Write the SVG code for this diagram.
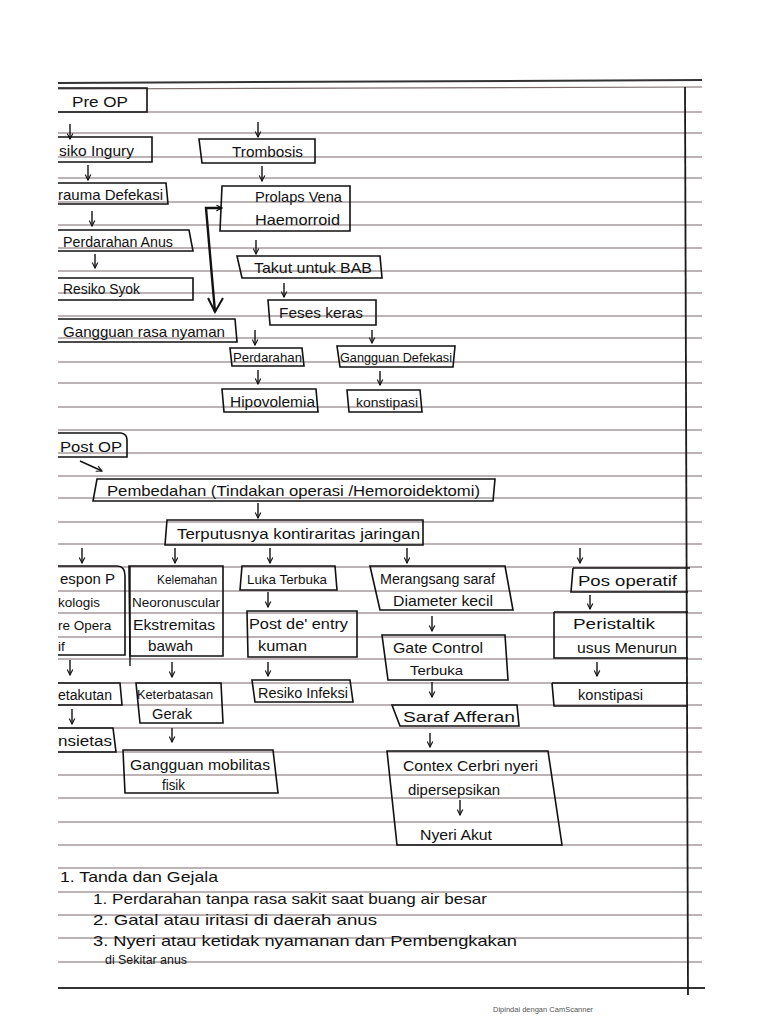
<svg xmlns="http://www.w3.org/2000/svg" width="768" height="1024" viewBox="0 0 768 1024">
<defs>
<style>
.rule{stroke:#7a6a6a;stroke-width:1.1;fill:none}
.box{fill:none;stroke:#111;stroke-width:1.6}
.t{font-family:"Liberation Sans","DejaVu Sans",sans-serif;font-size:15px;fill:#111}
.s{font-size:13.5px}
.xs{font-size:12.5px}
.c{stroke:#111;stroke-width:1.4;fill:none}
</style>
<marker id="ah" viewBox="0 0 10 10" refX="9" refY="5" markerWidth="7" markerHeight="7" orient="auto-start-reverse" markerUnits="userSpaceOnUse">
<path d="M1,1 L9,5 L1,9" fill="none" stroke="#111" stroke-width="1.6"/>
</marker>
</defs>
<rect width="768" height="1024" fill="#fff"/>
<g id="paper">
<path class="rule" style="stroke-width:2;stroke:#333" d="M58 83 L702 80"/>
<path class="rule" d="M58 89 L702 87"/>
<path class="rule" d="M58 112 H702 M58 133 H702 M58 157 H702 M58 178 H702 M58 202 H702 M58 225 H702 M58 248 H702 M58 271 H702 M58 293 H702 M58 316 H702 M58 338 H702 M58 362 H702 M58 383 H702 M58 407 H702 M58 430 H702 M58 453 H702 M58 476 H702 M58 498 H702 M58 522 H702 M58 544 H702 M58 567 H702 M58 591 H702 M58 613 H702 M58 637 H702 M58 659 H702 M58 683 H702 M58 705 H702 M58 728 H702 M58 752 H702 M58 775 H702 M58 798 H702 M58 822 H702 M58 845 H702 M58 868 H702 M58 892 H702 M58 915 H702 M58 938 H702 M58 962 H702"/>
<path class="rule" style="stroke-width:2;stroke:#333" d="M58 988 H705"/>
<path d="M685 87 L688 995" stroke="#1a1a1a" stroke-width="1.8" fill="none"/>
</g>

<g id="connectors">
<path class="c" d="M70 124 V139" marker-end="url(#ah)"/>
<path class="c" d="M258 122 V137" marker-end="url(#ah)"/>
<path class="c" d="M88 165 V180" marker-end="url(#ah)"/>
<path class="c" d="M262 166 V181" marker-end="url(#ah)"/>
<path class="c" d="M92 211 V226" marker-end="url(#ah)"/>
<path class="c" d="M256 240 V254" marker-end="url(#ah)"/>
<path class="c" d="M95 254 V268" marker-end="url(#ah)"/>
<path class="c" d="M284 283 V297" marker-end="url(#ah)"/>
<path d="M215 312 L206 208 H222" stroke="#111" stroke-width="2.4" fill="none" marker-end="url(#ah)"/>
<path d="M208 298 L215 312 L223 298" stroke="#111" stroke-width="2" fill="none"/>
<path class="c" d="M255 330 V345" marker-end="url(#ah)"/>
<path class="c" d="M372 330 V343" marker-end="url(#ah)"/>
<path class="c" d="M258 370 V384" marker-end="url(#ah)"/>
<path class="c" d="M380 371 V385" marker-end="url(#ah)"/>
<path class="c" d="M80 461 L102 471" marker-end="url(#ah)"/>
<path class="c" d="M258 503 V518" marker-end="url(#ah)"/>
<path class="c" d="M82 548 V563" marker-end="url(#ah)"/>
<path class="c" d="M175 548 V563" marker-end="url(#ah)"/>
<path class="c" d="M270 548 V563" marker-end="url(#ah)"/>
<path class="c" d="M407 548 V563" marker-end="url(#ah)"/>
<path class="c" d="M580 548 V563" marker-end="url(#ah)"/>
<path class="c" d="M268 592 V607" marker-end="url(#ah)"/>
<path class="c" d="M590 595 V609" marker-end="url(#ah)"/>
<path class="c" d="M432 616 V631" marker-end="url(#ah)"/>
<path class="c" d="M70 660 V675" marker-end="url(#ah)"/>
<path class="c" d="M172 662 V677" marker-end="url(#ah)"/>
<path class="c" d="M268 662 V676" marker-end="url(#ah)"/>
<path class="c" d="M597 662 V676" marker-end="url(#ah)"/>
<path class="c" d="M432 682 V697" marker-end="url(#ah)"/>
<path class="c" d="M72 709 V724" marker-end="url(#ah)"/>
<path class="c" d="M172 728 V742" marker-end="url(#ah)"/>
<path class="c" d="M430 733 V747" marker-end="url(#ah)"/>
<path class="c" d="M460 800 V815" marker-end="url(#ah)"/>
</g>

<g id="pre-op"><path class="box" d="M58 88 H147 V112 H58"/><text class="t" x="72" y="107" textLength="56" lengthAdjust="spacingAndGlyphs">Pre OP</text></g>
<g id="resiko-ingury"><path class="box" d="M58 137 H152 V162 H58"/><text class="t" x="59" y="156" textLength="75" lengthAdjust="spacingAndGlyphs">siko Ingury</text></g>
<g id="trombosis"><path class="box" d="M199 139 H315 V163 H202 Z"/><text class="t" x="232" y="157" textLength="71" lengthAdjust="spacingAndGlyphs">Trombosis</text></g>
<g id="trauma-defekasi"><path class="box" d="M58 183 H166 L168 204 H58"/><text class="t" x="58" y="200" textLength="105" lengthAdjust="spacingAndGlyphs">rauma Defekasi</text></g>
<g id="prolaps"><path class="box" d="M222 186 H350 V231 H220 Z"/><text class="t" x="255" y="202" textLength="87" lengthAdjust="spacingAndGlyphs">Prolaps Vena</text><text class="t" x="255" y="225" textLength="85" lengthAdjust="spacingAndGlyphs">Haemorroid</text></g>
<g id="perdarahan-anus"><path class="box" d="M58 230 H189 L193 251 H58"/><text class="t" x="63" y="247" style="font-size:14px" textLength="110" lengthAdjust="spacingAndGlyphs">Perdarahan Anus</text></g>
<g id="takut-bab"><path class="box" d="M237 256 H380 L382 278 H242 Z"/><text class="t" x="254" y="273" textLength="118" lengthAdjust="spacingAndGlyphs">Takut untuk BAB</text></g>
<g id="resiko-syok"><path class="box" d="M58 278 H193 V300 H58"/><text class="t" x="63" y="294" style="font-size:14px" textLength="77" lengthAdjust="spacingAndGlyphs">Resiko Syok</text></g>
<g id="feses-keras"><path class="box" d="M268 300 H376 V325 H270 Z"/><text class="t" x="279" y="318" textLength="84" lengthAdjust="spacingAndGlyphs">Feses keras</text></g>
<g id="gangguan-rasa-nyaman"><path class="box" d="M58 319 H235 L237 342 H58"/><text class="t" x="63" y="337" textLength="162" lengthAdjust="spacingAndGlyphs">Gangguan rasa nyaman</text></g>
<g id="perdarahan"><path class="box" d="M230 348 H302 L304 366 H232 Z"/><text class="t s" x="233" y="362" textLength="69" lengthAdjust="spacingAndGlyphs">Perdarahan</text></g>
<g id="gangguan-defekasi"><path class="box" d="M337 346 H455 L453 367 H340 Z"/><text class="t" x="340" y="362" style="font-size:13px" textLength="112" lengthAdjust="spacingAndGlyphs">Gangguan Defekasi</text></g>
<g id="hipovolemia"><path class="box" d="M222 389 H316 L318 412 H224 Z"/><text class="t" x="230" y="407" textLength="85" lengthAdjust="spacingAndGlyphs">Hipovolemia</text></g>
<g id="konstipasi-1"><path class="box" d="M347 390 H420 L422 412 H349 Z"/><text class="t s" x="356" y="407" textLength="62" lengthAdjust="spacingAndGlyphs">konstipasi</text></g>

<g id="post-op"><path class="box" d="M58 433 H121 Q127 434 127 440 V457 H58"/><text class="t" x="60" y="452" textLength="62" lengthAdjust="spacingAndGlyphs">Post OP</text></g>
<g id="pembedahan"><path class="box" d="M97 479 H495 L493 501 H93 Z"/><text class="t" x="107" y="496" textLength="373" lengthAdjust="spacingAndGlyphs">Pembedahan (Tindakan operasi /Hemoroidektomi)</text></g>
<g id="terputusnya"><path class="box" d="M167 520 H423 V545 H165 Z"/><text class="t" x="177" y="539" textLength="243" lengthAdjust="spacingAndGlyphs">Terputusnya kontiraritas jaringan</text></g>
<g id="respon"><path class="box" d="M58 566 H117 Q125 566 125 576 V655 H58"/><text class="t" x="60" y="584" textLength="55" lengthAdjust="spacingAndGlyphs">espon P</text><text class="t s" x="58" y="607">kologis</text><text class="t s" x="58" y="630">re Opera</text><text class="t s" x="58" y="651">if</text></g>
<g id="kelemahan"><path class="box" d="M129 566 H223 V656 H130 Z"/><path class="c" d="M130 566 V666"/><text class="t xs" x="157" y="584" textLength="60" lengthAdjust="spacingAndGlyphs">Kelemahan</text><text class="t s" x="132" y="607" textLength="88" lengthAdjust="spacingAndGlyphs">Neoronuscular</text><text class="t" x="133" y="630" textLength="82" lengthAdjust="spacingAndGlyphs">Ekstremitas</text><text class="t" x="148" y="651" textLength="45" lengthAdjust="spacingAndGlyphs">bawah</text></g>
<g id="luka-terbuka"><path class="box" d="M242 566 H335 L337 590 H240 Z"/><text class="t s" x="247" y="584" textLength="80" lengthAdjust="spacingAndGlyphs">Luka Terbuka</text></g>
<g id="post-de-entry"><path class="box" d="M247 611 H357 V657 H248 Z"/><text class="t" x="249" y="629" textLength="99" lengthAdjust="spacingAndGlyphs">Post de' entry</text><text class="t" x="258" y="651" textLength="49" lengthAdjust="spacingAndGlyphs">kuman</text></g>
<g id="resiko-infeksi"><path class="box" d="M252 680 H350 L353 702 H255 Z"/><text class="t" x="258" y="698" style="font-size:14px" textLength="90" lengthAdjust="spacingAndGlyphs">Resiko Infeksi</text></g>
<g id="merangsang"><path class="box" d="M370 566 H505 L513 610 H380 Z"/><text class="t" x="380" y="584" style="font-size:14px" textLength="115" lengthAdjust="spacingAndGlyphs">Merangsang saraf</text><text class="t" x="393" y="606" textLength="100" lengthAdjust="spacingAndGlyphs">Diameter kecil</text></g>
<g id="gate-control"><path class="box" d="M382 635 H505 L508 680 H388 Z"/><text class="t" x="393" y="653" textLength="90" lengthAdjust="spacingAndGlyphs">Gate Control</text><text class="t s" x="410" y="675" textLength="53" lengthAdjust="spacingAndGlyphs">Terbuka</text></g>
<g id="saraf-afferan"><path class="box" d="M392 705 H517 L519 726 H400 Z"/><text class="t" x="403" y="722" textLength="112" lengthAdjust="spacingAndGlyphs">Saraf Afferan</text></g>
<g id="contex-cerbri"><path class="box" d="M387 751 H548 L562 845 H397 Z"/><text class="t" x="403" y="771" textLength="135" lengthAdjust="spacingAndGlyphs">Contex Cerbri nyeri</text><text class="t" x="408" y="795" textLength="92" lengthAdjust="spacingAndGlyphs">dipersepsikan</text><text class="t" x="420" y="840" textLength="72" lengthAdjust="spacingAndGlyphs">Nyeri Akut</text></g>
<g id="pos-operatif"><path class="box" d="M573 568 H690 M573 568 L571 592 H688"/><text class="t" x="578" y="586" textLength="99" lengthAdjust="spacingAndGlyphs">Pos operatif</text></g>
<g id="peristaltik"><path class="box" d="M554 612 H688 M554 612 V658 H688"/><text class="t" x="573" y="629" textLength="82" lengthAdjust="spacingAndGlyphs">Peristaltik</text><text class="t" x="577" y="653" textLength="100" lengthAdjust="spacingAndGlyphs">usus Menurun</text></g>
<g id="konstipasi-2"><path class="box" d="M552 683 H688 M552 683 L554 706 H688"/><text class="t" x="578" y="700" textLength="65" lengthAdjust="spacingAndGlyphs">konstipasi</text></g>
<g id="ketakutan"><path class="box" d="M58 683 H120 L122 705 H58"/><text class="t" x="58" y="700" style="font-size:14px" textLength="54" lengthAdjust="spacingAndGlyphs">etakutan</text></g>
<g id="keterbatasan"><path class="box" d="M136 683 H221 L223 723 H140 Z"/><text class="t" x="137" y="699" style="font-size:13px" textLength="76" lengthAdjust="spacingAndGlyphs">Keterbatasan</text><text class="t" x="152" y="719" textLength="40" lengthAdjust="spacingAndGlyphs">Gerak</text></g>
<g id="ansietas"><path class="box" d="M58 728 H113 L116 752 H58"/><text class="t" x="58" y="746" textLength="54" lengthAdjust="spacingAndGlyphs">nsietas</text></g>
<g id="gangguan-mobilitas"><path class="box" d="M123 750 H273 L278 793 H125 Z"/><text class="t" x="130" y="770" textLength="140" lengthAdjust="spacingAndGlyphs">Gangguan mobilitas</text><text class="t" x="162" y="790" textLength="23" lengthAdjust="spacingAndGlyphs">fisik</text></g>

<g id="notes">
<text class="t" x="60" y="882" textLength="158" lengthAdjust="spacingAndGlyphs">1. Tanda dan Gejala</text>
<text class="t" x="93" y="904" textLength="394" lengthAdjust="spacingAndGlyphs">1. Perdarahan tanpa rasa sakit saat buang air besar</text>
<text class="t" x="93" y="925" textLength="284" lengthAdjust="spacingAndGlyphs">2. Gatal atau iritasi di daerah anus</text>
<text class="t" x="93" y="946" textLength="424" lengthAdjust="spacingAndGlyphs">3. Nyeri atau ketidak nyamanan dan Pembengkakan</text>
<text class="t xs" x="105" y="964" textLength="82" lengthAdjust="spacingAndGlyphs">di Sekitar anus</text>
<text x="493" y="1012" style="font-family:'Liberation Sans',sans-serif;font-size:7.5px;fill:#555">Dipindai dengan CamScanner</text>
</g>
</svg>
